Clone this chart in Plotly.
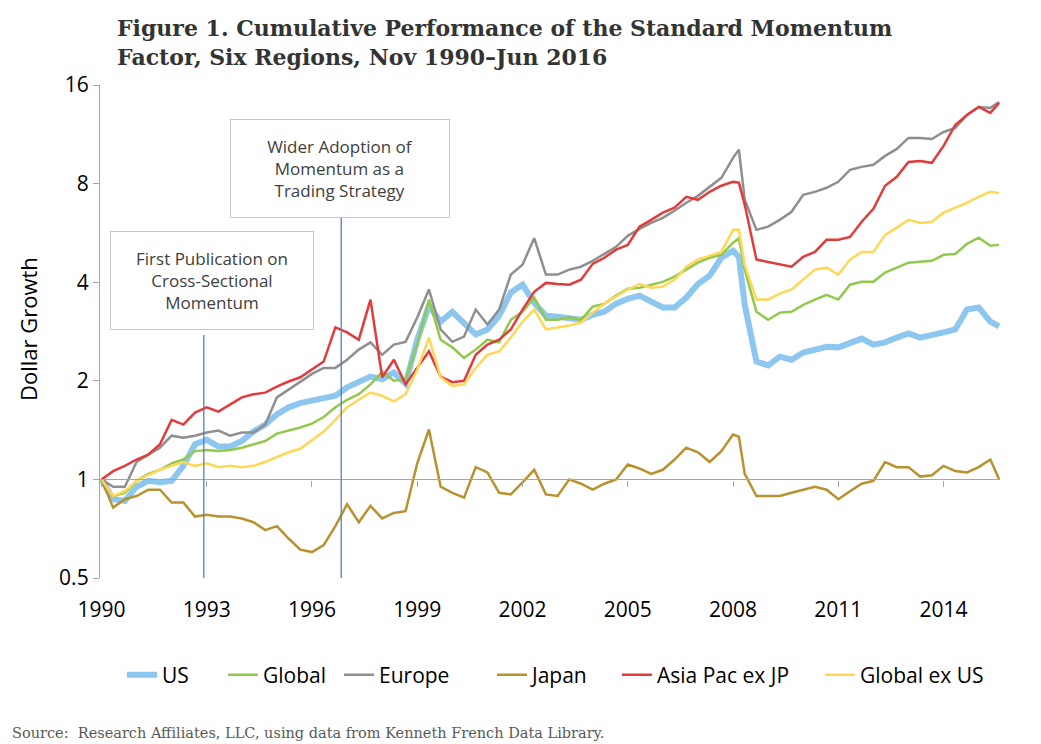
import math
import plotly.graph_objects as go

# ---- data: months since Nov 1990 (sampled), cumulative dollar growth ----
months = list(range(0, 217, 4)) + [218] + list(range(220, 305, 4)) + [307]

us = [1.00, 0.87, 0.86, 0.95, 0.99, 0.98, 0.99, 1.10, 1.28, 1.32,
      1.26, 1.26, 1.31, 1.40, 1.47, 1.58, 1.66, 1.71, 1.74, 1.77,
      1.80, 1.91, 1.99, 2.06, 2.02, 2.12, 1.96, 2.67, 3.39, 3.03,
      3.25, 2.99, 2.77, 2.87, 3.16, 3.72, 3.93, 3.46, 3.16, 3.14,
      3.12, 3.07, 3.18, 3.25, 3.44, 3.56, 3.64, 3.49, 3.35, 3.35,
      3.59, 3.95, 4.19, 4.75, 4.99,
      4.78,
      3.41, 2.29, 2.23, 2.37, 2.32,
      2.44, 2.49, 2.54, 2.53, 2.62, 2.69, 2.58, 2.62, 2.71, 2.79,
      2.71, 2.75, 2.81, 2.87, 3.30, 3.35, 3.03, 2.93]

global_ = [1.00, 0.89, 0.91, 0.99, 1.04, 1.07, 1.12, 1.15, 1.22, 1.23,
           1.22, 1.23, 1.25, 1.28, 1.31, 1.38, 1.41, 1.44, 1.48, 1.55,
           1.66, 1.75, 1.82, 1.95, 2.13, 2.00, 2.02, 2.58, 3.54, 2.67,
           2.53, 2.35, 2.49, 2.67, 2.62, 3.07, 3.25, 3.59, 3.07, 3.07,
           3.12, 3.07, 3.37, 3.44, 3.64, 3.82, 3.85, 3.93, 4.01, 4.16,
           4.37, 4.59, 4.75, 4.85, 5.28,
           5.45,
           4.37, 3.25, 3.07, 3.23, 3.25,
           3.41, 3.54, 3.66, 3.54, 3.93, 4.01, 4.01, 4.28, 4.43, 4.59,
           4.62, 4.65, 4.85, 4.88, 5.24, 5.47, 5.17, 5.20]

europe = [1.00, 0.95, 0.95, 1.13, 1.19, 1.25, 1.36, 1.34, 1.36, 1.39,
          1.41, 1.36, 1.39, 1.39, 1.47, 1.78, 1.88, 1.99, 2.10, 2.19,
          2.19, 2.32, 2.49, 2.62, 2.40, 2.58, 2.63, 3.12, 3.80, 2.87,
          2.63, 2.73, 3.30, 2.97, 3.30, 4.22, 4.52, 5.45, 4.22, 4.22,
          4.37, 4.46, 4.65, 4.88, 5.13, 5.54, 5.82, 6.07, 6.29, 6.61,
          6.99, 7.34, 7.82, 8.33, 9.59,
          10.15,
          7.14, 5.78, 5.91, 6.20, 6.56,
          7.39, 7.55, 7.77, 8.10, 8.81, 9.00, 9.13, 9.72, 10.21, 11.03,
          11.03, 10.95, 11.50, 11.83, 12.96, 13.71, 13.62, 14.20]

japan = [1.00, 0.82, 0.87, 0.89, 0.93, 0.93, 0.85, 0.85, 0.77, 0.78,
         0.77, 0.77, 0.76, 0.74, 0.70, 0.72, 0.66, 0.61, 0.60, 0.63,
         0.72, 0.84, 0.74, 0.83, 0.76, 0.79, 0.80, 1.12, 1.42, 0.95,
         0.91, 0.88, 1.09, 1.05, 0.91, 0.90, 0.98, 1.07, 0.90, 0.89,
         1.00, 0.97, 0.93, 0.97, 1.00, 1.11, 1.08, 1.04, 1.07, 1.15,
         1.25, 1.21, 1.13, 1.22, 1.37,
         1.35,
         1.04, 0.89, 0.89, 0.89, 0.91,
         0.93, 0.95, 0.93, 0.87, 0.92, 0.97, 0.99, 1.13, 1.09, 1.09,
         1.02, 1.03, 1.10, 1.06, 1.05, 1.09, 1.15, 1.00]

asia_pac = [1.00, 1.06, 1.10, 1.15, 1.19, 1.28, 1.52, 1.47, 1.60, 1.66,
            1.61, 1.69, 1.78, 1.82, 1.84, 1.92, 1.99, 2.05, 2.16, 2.29,
            2.91, 2.81, 2.67, 3.54, 2.05, 2.32, 1.95, 2.19, 2.46, 2.06,
            1.98, 2.00, 2.40, 2.58, 2.67, 2.87, 3.30, 3.74, 3.98, 3.95,
            3.93, 4.07, 4.55, 4.75, 5.03, 5.20, 5.91, 6.20, 6.52, 6.75,
            7.29, 7.14, 7.55, 7.88, 8.10,
            8.05,
            6.89, 4.69, 4.62, 4.55, 4.46,
            4.78, 4.95, 5.39, 5.39, 5.50, 6.12, 6.70, 7.88, 8.39, 9.32,
            9.38, 9.26, 10.43, 12.08, 12.96, 13.71, 13.15, 14.11]

global_ex_us = [1.00, 0.89, 0.92, 0.99, 1.03, 1.07, 1.10, 1.13, 1.10, 1.12,
                1.09, 1.10, 1.09, 1.10, 1.13, 1.17, 1.21, 1.24, 1.32, 1.40,
                1.52, 1.66, 1.75, 1.84, 1.80, 1.73, 1.82, 2.16, 2.71, 2.05,
                1.93, 1.95, 2.19, 2.40, 2.46, 2.71, 3.03, 3.30, 2.87, 2.91,
                2.95, 3.01, 3.23, 3.44, 3.61, 3.80, 3.95, 3.85, 3.88, 4.07,
                4.46, 4.69, 4.82, 4.95, 5.78,
                5.78,
                4.52, 3.54, 3.54, 3.69, 3.80,
                4.07, 4.37, 4.43, 4.22, 4.69, 4.95, 4.95, 5.58, 5.87, 6.20,
                6.07, 6.12, 6.52, 6.75, 6.99, 7.29, 7.55, 7.49]

series_names = ["US", "Global", "Europe", "Japan", "Asia Pac ex JP", "Global ex US"]
series_values = [us, global_, europe, japan, asia_pac, global_ex_us]
series_colors = ["#8DC6EE", "#92C94C", "#8F8F8F", "#B8922E", "#E23B3B", "#FFD757"]
series_widths = [6, 2.5, 2.5, 2.5, 2.5, 2.5]

tick_months = [0, 36, 72, 108, 144, 180, 216, 252, 288]
tick_labels = ["1990", "1993", "1996", "1999", "2002", "2005", "2008", "2011", "2014"]

y_ticks = [0.5, 1, 2, 4, 8, 16]
y_labels = ["0.5", "1", "2", "4", "8", "16"]

event_months = [35, 82]
event_texts = ["First Publication on<br>Cross-Sectional<br>Momentum",
               "Wider Adoption of<br>Momentum as a<br>Trading Strategy"]

SANS = "Open Sans, Noto Sans, sans-serif"
SERIF = "DejaVu Serif, serif"
AXIS_GRAY = "#A6A6A6"

# page body adds an 8px margin; layout below is expressed in figure pixels
W, H = 1033, 736
ML, MR, MT, MB = 92, 41, 77, 166
PW, PH = W - ML - MR, H - MT - MB


def px_x(fx):
    return (fx - ML) / PW


def px_y(fy):
    return (H - MB - fy) / PH


fig = go.Figure()
legend_starts = [119, 220, 336, 489, 614, 817]
for idx, (name, vals, col, w) in enumerate(zip(series_names, series_values,
                                               series_colors, series_widths)):
    lg = "legend" if idx == 0 else "legend%d" % (idx + 1)
    fig.add_trace(go.Scatter(x=months, y=vals, mode="lines", name=name,
                             line=dict(color=col, width=w), legend=lg))

# dummy trace so the baseline axis at y = 1 is drawn
fig.add_trace(go.Scatter(x=[None], y=[None], xaxis="x2", showlegend=False,
                         hoverinfo="skip"))

xr = [-0.5, 307.3]
yr = [math.log10(0.5), math.log10(16)]
baseline_pos = (0 - yr[0]) / (yr[1] - yr[0])

# event lines rising from the axis bottom to the annotation boxes
box_bottoms = [px_y(327), px_y(182)]
for m, top in zip(event_months, box_bottoms):
    fig.add_shape(type="line", xref="x", yref="paper", x0=m, x1=m, y0=0, y1=top,
                  line=dict(color="#4F81C7", width=1.3))

boxes = [(px_x(203.5), px_y(272), 202), (px_x(332), px_y(160), 218)]
for (bx, by, bw), txt in zip(boxes, event_texts):
    fig.add_annotation(xref="paper", yref="paper", x=bx, y=by, text=txt,
                       xanchor="center", yanchor="middle",
                       showarrow=False, align="center", width=bw, height=97,
                       bgcolor="white", bordercolor="#C8C8C8", borderwidth=1,
                       borderpad=0, font=dict(family=SANS, size=17, color="#404040"))

fig.add_annotation(xref="paper", yref="paper", x=px_x(20), y=px_y(321),
                   xanchor="center", yanchor="middle",
                   text="Dollar Growth", textangle=-90, showarrow=False,
                   font=dict(family=SANS, size=22, color="#000000"))

fig.add_annotation(xref="paper", yref="paper", x=px_x(107), y=px_y(5),
                   xanchor="left", yanchor="top", align="left", showarrow=False,
                   text="<b>Figure 1. Cumulative Performance of the Standard Momentum<br>"
                        "Factor, Six Regions, Nov 1990–Jun 2016</b>",
                   font=dict(family=SERIF, size=22, color="#333333"))

fig.add_annotation(xref="paper", yref="paper", x=px_x(2), y=px_y(725), xanchor="left",
                   yanchor="middle", showarrow=False,
                   text="Source:  Research Affiliates, LLC, using data from Kenneth French Data Library.",
                   font=dict(family=SERIF, size=14.5, color="#595959"))

legend_font = dict(family=SANS, size=21, color="#000000")
layout_legends = {}
for idx, start in enumerate(legend_starts):
    key = "legend" if idx == 0 else "legend%d" % (idx + 1)
    layout_legends[key] = dict(orientation="h", x=px_x(start - 5), xanchor="left",
                               y=px_y(667), yanchor="middle", font=legend_font,
                               bgcolor="rgba(0,0,0,0)", borderwidth=0)

fig.update_layout(
    width=W, height=H,
    margin=dict(l=ML, r=MR, t=MT, b=MB),
    paper_bgcolor="white", plot_bgcolor="white",
    xaxis=dict(range=xr, tickvals=tick_months, ticktext=tick_labels,
               showline=False, ticks="", showgrid=False, zeroline=False,
               ticklabelstandoff=17,
               tickfont=dict(family=SANS, size=21, color="#000000")),
    xaxis2=dict(range=xr, overlaying="x", anchor="free", position=baseline_pos,
                tickvals=tick_months, showticklabels=False, ticks="outside",
                ticklen=6, tickcolor=AXIS_GRAY, showline=True, linecolor=AXIS_GRAY,
                linewidth=1.3, showgrid=False, zeroline=False),
    yaxis=dict(type="log", range=yr, tickvals=y_ticks, ticktext=y_labels,
               ticks="outside", ticklen=6, tickcolor=AXIS_GRAY, showline=True,
               linecolor=AXIS_GRAY, linewidth=1.3, showgrid=False, zeroline=False,
               tickfont=dict(family=SANS, size=21, color="#000000")),
    showlegend=True,
    **layout_legends,
)

fig.write_html("out.html")
